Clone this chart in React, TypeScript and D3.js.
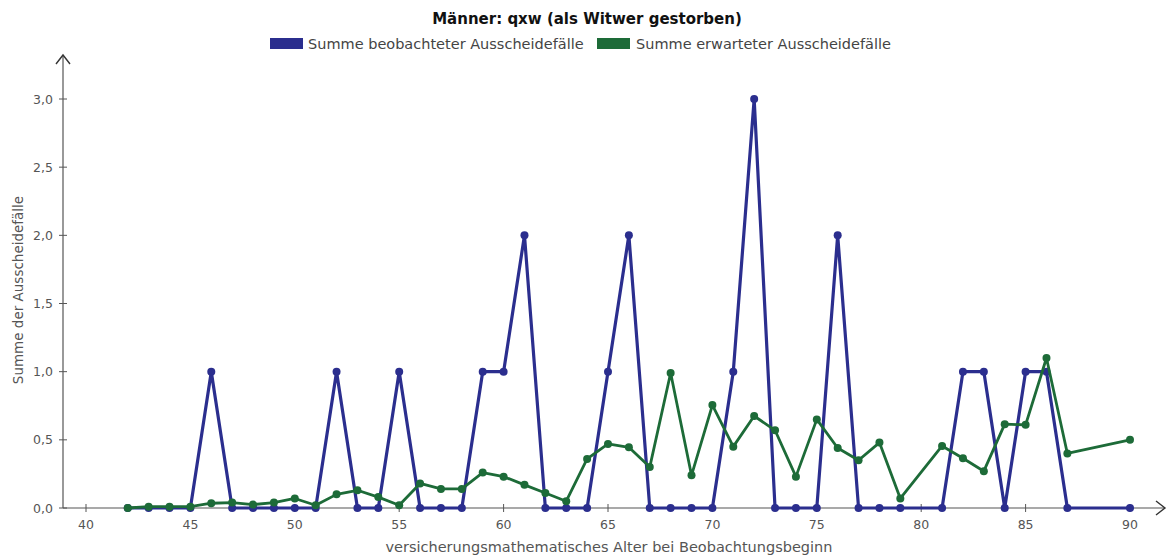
import React from "react";
import * as d3 from "d3";

const ages = [42,43,44,45,46,47,48,49,50,51,52,53,54,55,56,57,58,59,60,61,62,63,64,65,66,67,68,69,70,71,72,73,74,75,76,77,78,79,81,82,83,84,85,86,87,90];
const observed = [0,0,0,0,1,0,0,0,0,0,1,0,0,1,0,0,0,1,1,2,0,0,0,1,2,0,0,0,0,1,3,0,0,0,2,0,0,0,0,1,1,0,1,1,0,0];
const expected = [0,0.01,0.01,0.01,0.035,0.04,0.025,0.04,0.07,0.02,0.10,0.13,0.08,0.02,0.18,0.14,0.14,0.26,0.23,0.17,0.11,0.05,0.36,0.47,0.445,0.30,0.99,0.24,0.755,0.45,0.675,0.57,0.23,0.65,0.44,0.35,0.48,0.07,0.455,0.365,0.27,0.615,0.61,1.10,0.40,0.50];
const xTicks = [40,45,50,55,60,65,70,75,80,85,90];
const yTicks = [0,0.5,1,1.5,2,2.5,3];
const seriesNames = ["Summe beobachteter Ausscheidefälle", "Summe erwarteter Ausscheidefälle"];
const title = "Männer: qxw (als Witwer gestorben)";
const xLabel = "versicherungsmathematisches Alter bei Beobachtungsbeginn";
const yLabel = "Summe der Ausscheidefälle";

const BLUE = "#2b2e8e";
const GREEN = "#1d6b38";
const AXIS = "#555";
const FONT = "'DejaVu Sans', sans-serif";

export default function App() {
  const W = 1170, H = 556;
  const x = d3.scaleLinear().domain([40, 90]).range([86, 1130]);
  const y = d3.scaleLinear().domain([0, 3]).range([508, 99]);
  const x0 = 63, y0 = 508;
  const line = d3.line<[number, number]>().x(d => x(d[0])).y(d => y(d[1]));
  const obsPts: [number, number][] = ages.map((a, i) => [a, observed[i]]);
  const expPts: [number, number][] = ages.map((a, i) => [a, expected[i]]);
  const fmt = (v: number) => v.toFixed(1).replace(".", ",");

  return (
    <svg width={W} height={H} style={{ position: "absolute", left: 0, top: 0 }} fontFamily={FONT}>
      <rect width={W} height={H} fill="#fff" />
      <text x={587} y={24} textAnchor="middle" fontSize={15} fontWeight="bold" fill="#111">{title}</text>
      <rect x={270} y={38} width={33} height={11} fill={BLUE} />
      <text x={308} y={48.5} fontSize={14.5} fill="#444">{seriesNames[0]}</text>
      <rect x={597} y={38} width={33} height={11} fill={GREEN} />
      <text x={636} y={48.5} fontSize={14.5} fill="#444">{seriesNames[1]}</text>

      {/* axes */}
      <line x1={x0} y1={y0} x2={1164} y2={y0} stroke={AXIS} strokeWidth={1.2} />
      <polyline points={`1156,501 1165,508 1156,515`} fill="none" stroke="#333" strokeWidth={1.4} />
      <line x1={x0} y1={y0} x2={x0} y2={56} stroke={AXIS} strokeWidth={1.2} />
      <polyline points={`56,64 63,55 70,64`} fill="none" stroke="#333" strokeWidth={1.4} />

      {yTicks.map(t => (
        <g key={"y" + t}>
          <line x1={x0 - 4} x2={x0 + 4} y1={y(t)} y2={y(t)} stroke={AXIS} strokeWidth={1} />
          <text x={53} y={y(t) + 4.5} textAnchor="end" fontSize={12.5} fill="#555">{fmt(t)}</text>
        </g>
      ))}
      {xTicks.map(t => (
        <g key={"x" + t}>
          <line x1={x(t)} x2={x(t)} y1={y0 - 4} y2={y0 + 4} stroke={AXIS} strokeWidth={1} />
          <text x={x(t)} y={529} textAnchor="middle" fontSize={12.5} fill="#555">{t}</text>
        </g>
      ))}
      <text x={609} y={552} textAnchor="middle" fontSize={14.5} fill="#555">{xLabel}</text>
      <text transform={`translate(23,${290}) rotate(-90)`} textAnchor="middle" fontSize={13.5} fill="#555">{yLabel}</text>

      <path d={line(obsPts) || ""} fill="none" stroke={BLUE} strokeWidth={3.2} strokeLinejoin="round" />
      {obsPts.map((p, i) => (
        <circle key={"o" + i} cx={x(p[0])} cy={y(p[1])} r={4} fill={BLUE} />
      ))}
      <path d={line(expPts) || ""} fill="none" stroke={GREEN} strokeWidth={2.8} strokeLinejoin="round" />
      {expPts.map((p, i) => (
        <circle key={"e" + i} cx={x(p[0])} cy={y(p[1])} r={4} fill={GREEN} />
      ))}
    </svg>
  );
}
